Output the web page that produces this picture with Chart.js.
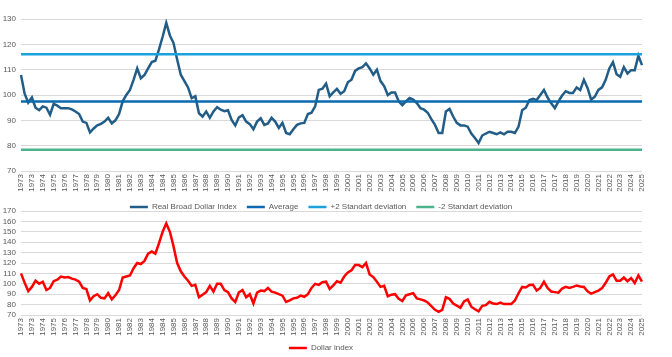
<!DOCTYPE html>
<html><head><meta charset="utf-8">
<script src="https://cdn.jsdelivr.net/npm/chart.js@4.4.0/dist/chart.umd.min.js"></script>
<style>
html,body{margin:0;padding:0;background:#fff;width:672px;height:357px;overflow:hidden}
#w1{position:absolute;left:0;top:0;width:672px;height:222px}
#w2{position:absolute;left:0;top:200px;width:672px;height:163px}
</style></head><body>
<div id="w1"><canvas id="c1"></canvas></div>
<div id="w2"><canvas id="c2"></canvas></div>
<script>
// Tick labels along the x axis (one every 3 data points)
const yearTicks = [
 '1973','1973','1974','1975','1976','1977','1978','1979','1980','1981','1982','1983','1984','1984','1985',
 '1986','1987','1988','1989','1990','1991','1992','1993','1994','1995','1995','1996','1997','1998',
 '1999','2000','2001','2002','2003','2004','2005','2006','2006','2007','2008','2009','2010','2011','2012',
 '2013','2014','2015','2016','2017','2017','2018','2019','2020','2021','2022','2023','2024','2025'];
const POINTS_PER_TICK = 3;

// Real Broad Dollar Index (top chart)
const realBroad = [
 107.9,100.5,97,99,95,94,95.5,95,92.2,96.5,
 95.8,94.8,94.8,94.8,94.3,93.5,92.5,89.5,89,85.2,
 86.8,88,88.6,89.5,91,88.8,90,92.5,97.5,100,
 102,106,110.5,106.6,107.9,110.5,113,113.5,118,123,
 128.5,123.5,120.5,114,108,105.5,103,98.7,99.5,92.8,
 91.5,93.5,91,93.5,95.2,94.2,93.6,94,90.2,88,
 91.2,92,89.5,88.5,86.5,89.5,90.8,88.2,88.8,91,
 89.5,87,89,85,84.5,86.5,88.2,88.8,89,92.5,
 93,95.5,102,102.5,104.5,99.5,101,102.4,100.5,101.5,
 105,106,109.5,110.5,111,112.5,110.5,108,110,105.5,
 103.5,100,101,101,97.5,96,97.5,98.8,98.2,96.8,
 94.8,94.2,93,90.5,88.2,85,85,93.5,94.5,91.5,
 89,88,88,87.5,84.8,83,81,84,84.8,85.5,
 85,84.5,85.2,84.5,85.5,85.5,85,87.5,94,95,
 98,98.5,98,100,102,99,96.7,94.8,97.5,99.8,
 101.5,100.8,100.8,103,102,106,102.8,98.2,99.3,102,
 103,106,110.5,113,108.2,107.2,111,108.5,109.8,109.8,
 115.5,111.8];

// Reference lines (top chart)
const AVERAGE = 97.4;
const PLUS_2SD = 116.1;
const MINUS_2SD = 78.4;

// Dollar index (bottom chart)
const dollarIndex = [
 110,101,93,97,103,100,102,94,96,102.5,
 104,107,106,106.5,105,104,102,96,95,84,
 88,90,86.5,86,91,85,89,94,106,107,
 108,115,120,119,122,129,131,129,139,150,
 158,150,136,120,112,107,103,98,99,87,
 89.5,92,98,92.5,100,100,94,92,86,82.5,
 91.8,94,87,90,81,91.5,93.5,93,96,92.5,
 91.5,90,88.6,82.5,84,86,86.6,88.6,87.5,90,
 96,100,99,101.5,102,95,98.5,102.5,101,107,
 111,113,118,118,116,120,109,106.5,102,97,
 98,88,89.5,90,85.5,83.5,89,90,91,86,
 85,84,82,78.5,75,73,75,87,85.5,81,
 79,77,83,85,78,75.5,73.5,78.8,79.5,82.7,
 81,80.5,82,80.5,80.5,80.5,84,90.9,97,96.5,
 98.8,99,93.5,96,102,96,92.5,92,91.5,95.5,
 97,96,97,98.4,97.5,97,92.8,90.5,92,93.5,
 95.8,101,107,109,103,103,106,102.5,105.5,100.7,
 108,102];

const labels = realBroad.map((_, i) => i % POINTS_PER_TICK === 0 ? yearTicks[i / POINTS_PER_TICK] : '');
const FONT = {family: "'Liberation Sans', Arial, sans-serif", size: 8};
const TICKC = '#595959';
const GRIDC = '#d9d9d9';

function xScale() {
  return {
    grid: {display: false, drawTicks: false},
    border: {display: false},
    ticks: {autoSkip: false, minRotation: 90, maxRotation: 90, padding: 3, color: TICKC, font: FONT,
      callback: (v, i) => labels[i]},
    afterFit: (s) => { s.height = 22; }
  };
}
function yScale(min, max) {
  return {
    min: min, max: max,
    grid: {color: GRIDC, lineWidth: 1, drawTicks: false},
    border: {display: false},
    ticks: {stepSize: 10, autoSkip: false, padding: 5, color: TICKC, font: FONT},
    afterFit: (s) => { s.width = 21; }
  };
}
function legendOpts(pad) {
  return {
    position: 'bottom',
    labels: {usePointStyle: true, pointStyle: 'line', pointStyleWidth: 18, boxHeight: 8,
      color: TICKC, font: FONT, padding: pad,
      sort: (a, b) => a.datasetIndex - b.datasetIndex}
  };
}
const line = (label, data, color, width, order) => ({
  label, data, borderColor: color, backgroundColor: color, borderWidth: width,
  pointRadius: 0, tension: 0, fill: false, order, pointStyle: 'line'
});

new Chart(document.getElementById('c1'), {
  type: 'line',
  data: {
    labels,
    datasets: [
      line('Real Broad Dollar Index', realBroad, '#215d87', 2.5, 4),
      line('Average', realBroad.map(() => AVERAGE), '#0a6aad', 2.5, 3),
      line('+2 Standart deviation', realBroad.map(() => PLUS_2SD), '#1ba1dc', 2.5, 2),
      line('-2 Standart deviation', realBroad.map(() => MINUS_2SD), '#4db38c', 2.5, 1)
    ]
  },
  options: {
    animation: false, responsive: true, maintainAspectRatio: false,
    layout: {padding: {left: 0, right: 30, top: 19, bottom: 1}},
    plugins: {legend: legendOpts(10), tooltip: {enabled: false}},
    scales: {x: xScale(), y: yScale(70, 130)}
  }
});

new Chart(document.getElementById('c2'), {
  type: 'line',
  data: {
    labels,
    datasets: [line('Dollar index', dollarIndex, '#ff0000', 2.5, 1)]
  },
  options: {
    animation: false, responsive: true, maintainAspectRatio: false,
    layout: {padding: {left: 0, right: 30, top: 11, bottom: 1}},
    plugins: {legend: legendOpts(7), tooltip: {enabled: false}},
    scales: {x: xScale(), y: yScale(70, 170)}
  }
});
</script>
</body></html>
